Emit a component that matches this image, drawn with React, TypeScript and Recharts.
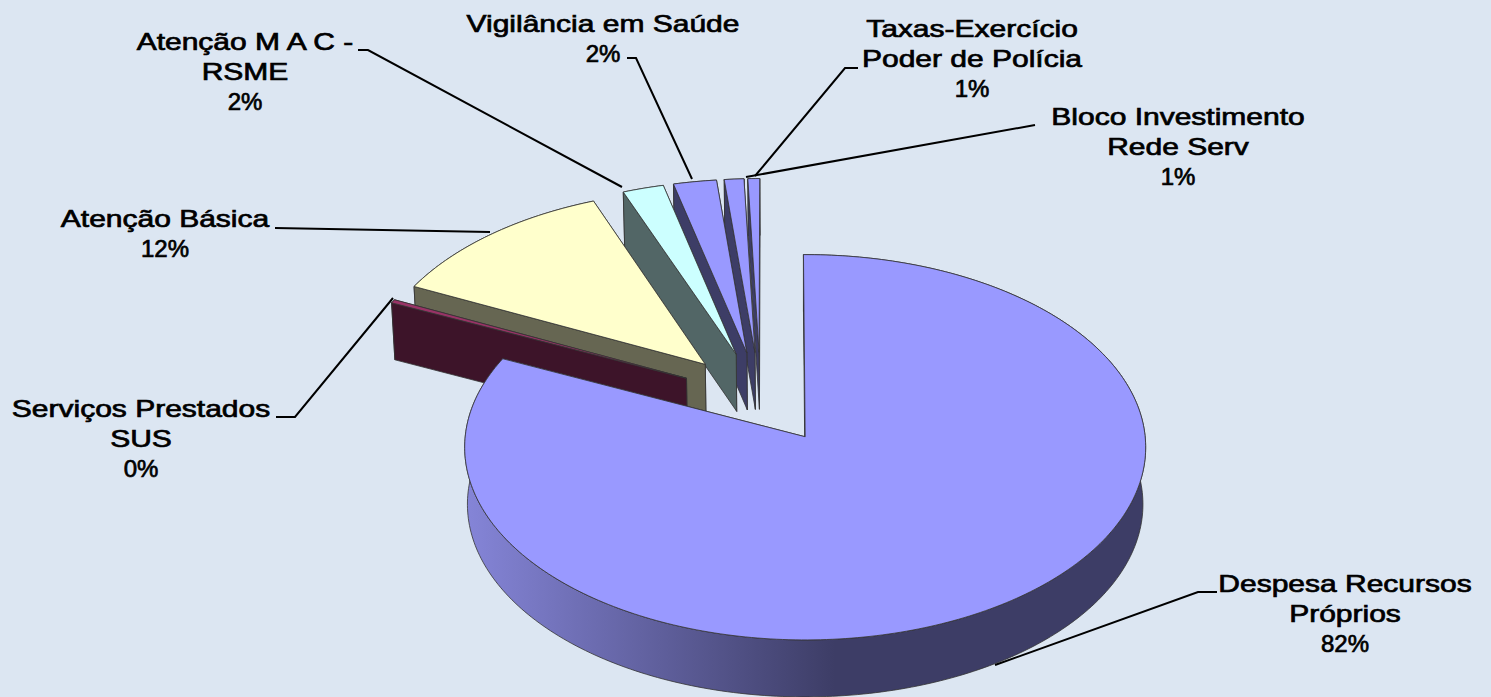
import { PieChart, Pie } from "recharts";

// listed counter-clockwise from 12 o'clock, so the slices paint back to front
const sliceNames = [
  "Bloco Investimento Rede Serv",
  "Taxas-Exercício Poder de Polícia",
  "Vigilância em Saúde",
  "Atenção M A C - RSME",
  "Atenção Básica",
  "Serviços Prestados SUS",
  "Despesa Recursos Próprios",
];
const sliceValues = [0.6, 1.0, 2.2, 2.1, 11.9, 0.3, 81.9];
const topColors = ["#9999ff", "#9999ff", "#9999ff", "#ccffff", "#ffffcc", "#993366", "#9999ff"];
const sideColors = ["#3d3d66", "#3d3d66", "#3d3d66", "#526666", "#666652", "#3d1429", "url(#mainRim)"];

const labelLines = [
  ["Bloco Investimento", "Rede Serv"],
  ["Taxas-Exercício", "Poder de Polícia"],
  ["Vigilância em Saúde"],
  ["Atenção M A C -", "RSME"],
  ["Atenção Básica"],
  ["Serviços Prestados", "SUS"],
  ["Despesa Recursos", "Próprios"],
];
// centre x, first baseline, leader line
const labelSpots = [
  { x: 1178, y: 125, leader: "1035,125 746,177" },
  { x: 972, y: 37, leader: "858,68 845,68 755,176" },
  { x: 603, y: 32, leader: "627,58 636,58 692,179" },
  { x: 245, y: 50, leader: "358,50 368,50 622,187" },
  { x: 165, y: 227, leader: "275,228 490,232" },
  { x: 141, y: 417, leader: "276,417 295,417 393,298" },
  { x: 1345, y: 592, leader: "1217,592 1198,592 995,665" },
];

const data = sliceNames.map((name, i) => ({ name, value: sliceValues[i], fill: topColors[i] }));

const TILT = 0.565; // vertical squash of the disc
const PERSPECTIVE = 0.0545;
const EXPLODE = 0.245; // every slice is pulled out by this share of the radius
const PIE_SHIFT = { u: -0.131, v: -0.207 }; // main slice apex sits on cx,cy
const DEPTH = 57;
const DEPTH_SCALE = 0.992;
const TEXT_STRETCH = 1.25; // the reference's names are wider than any installed face

const rad = (deg: number) => (deg * Math.PI) / 180;

// @ts-ignore
const Slice3D = (props) => {
  const { cx, cy, outerRadius, startAngle, endAngle, fill, name } = props;
  const i = sliceNames.indexOf(name);
  const mid = rad((startAngle + endAngle) / 2);
  const u0 = PIE_SHIFT.u + EXPLODE * Math.cos(mid);
  const v0 = PIE_SHIFT.v - EXPLODE * Math.sin(mid);

  const project = (u: number, v: number, low = false) => {
    const w = 1 - PERSPECTIVE * v;
    const x = (outerRadius * u) / w;
    const y = (outerRadius * TILT * v) / w;
    return low ? [cx + x * DEPTH_SCALE, cy + y + DEPTH] : [cx + x, cy + y];
  };
  const toPath = (pts: number[][]) =>
    "M" + pts.map((p) => `${p[0].toFixed(2)},${p[1].toFixed(2)}`).join("L") + "Z";

  const steps = Math.max(2, Math.ceil(Math.abs(endAngle - startAngle)));
  const arc = (low: boolean) => {
    const pts = [];
    for (let s = 0; s <= steps; s++) {
      const a = rad(startAngle + ((endAngle - startAngle) * s) / steps);
      pts.push(project(u0 + Math.cos(a), v0 - Math.sin(a), low));
    }
    return pts;
  };
  const top = arc(false);
  const low = arc(true);
  const apexTop = project(u0, v0);
  const apexLow = project(u0, v0, true);
  const side = sideColors[i];
  const edge = { stroke: "#333", strokeWidth: 0.8, strokeLinejoin: "round" as const };

  return (
    <g>
      {side.startsWith("url") && (
        <defs>
          <linearGradient id="mainRim" gradientUnits="userSpaceOnUse" x1={465} y1={0} x2={835} y2={0}>
            <stop offset="0%" stopColor="#8585d8" />
            <stop offset="100%" stopColor="#3d3d66" />
          </linearGradient>
        </defs>
      )}
      <path d={toPath([...top, ...[...low].reverse()])} fill={side} {...edge} />
      <path d={toPath([apexTop, top[0], low[0], apexLow])} fill={side} {...edge} />
      <path d={toPath([apexTop, top[steps], low[steps], apexLow])} fill={side} {...edge} />
      <path d={toPath([apexTop, ...top])} fill={fill} {...edge} />
    </g>
  );
};

// @ts-ignore
const renderLabel = (props) => {
  const i = sliceNames.indexOf(props.name);
  const spot = labelSpots[i];
  const lines = labelLines[i];
  const textStyle = {
    textAnchor: "middle" as const,
    fontFamily: "Liberation Sans",
    fontSize: 24,
    fill: "#000",
    stroke: "#000",
    strokeWidth: 0.7,
  };
  return (
    <g key={props.name}>
      <polyline points={spot.leader} fill="none" stroke="#000" strokeWidth={2} />
      {lines.map((line, n) => (
        <text
          key={n}
          transform={`translate(${spot.x} ${spot.y + n * 30}) scale(${TEXT_STRETCH} 1)`}
          {...textStyle}
        >
          {line}
        </text>
      ))}
      <text x={spot.x} y={spot.y + lines.length * 30} {...textStyle}>
        {`${Math.round(props.percent * 100)}%`}
      </text>
    </g>
  );
};

const App = () => (
  <div style={{ position: "absolute", left: 0, top: 0, width: 1491, height: 697, background: "#dce6f2", overflow: "hidden" }}>
    <PieChart width={1491} height={697} margin={{ top: 0, right: 0, bottom: 0, left: 0 }}>
      <Pie
        data={data}
        dataKey="value"
        nameKey="name"
        cx={804.5}
        cy={437}
        innerRadius={0}
        outerRadius={340}
        startAngle={90.3}
        endAngle={450.3}
        stroke="none"
        shape={Slice3D}
        label={renderLabel}
        labelLine={false}
        isAnimationActive={false}
      />
    </PieChart>
  </div>
);

export default App;
